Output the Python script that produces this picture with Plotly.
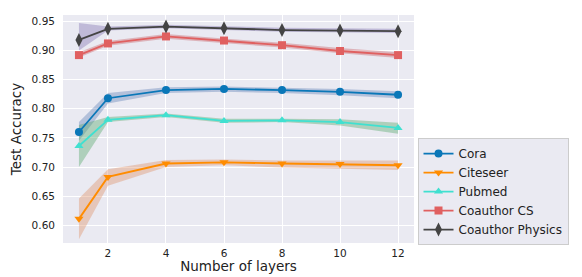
import plotly.graph_objects as go

layers = [1, 2, 4, 6, 8, 10, 12]
names = ["Cora", "Citeseer", "Pubmed", "Coauthor CS", "Coauthor Physics"]

cora = [0.760, 0.818, 0.832, 0.834, 0.832, 0.829, 0.824]
cora_lo = [0.745, 0.809, 0.827, 0.829, 0.827, 0.823, 0.818]
cora_hi = [0.777, 0.827, 0.837, 0.838, 0.836, 0.834, 0.830]

citeseer = [0.611, 0.683, 0.706, 0.708, 0.706, 0.705, 0.703]
citeseer_lo = [0.576, 0.668, 0.700, 0.703, 0.699, 0.697, 0.695]
citeseer_hi = [0.646, 0.696, 0.712, 0.713, 0.711, 0.711, 0.711]

pubmed = [0.736, 0.781, 0.789, 0.779, 0.780, 0.777, 0.767]
pubmed_lo = [0.700, 0.777, 0.786, 0.776, 0.777, 0.771, 0.757]
pubmed_hi = [0.772, 0.786, 0.792, 0.783, 0.783, 0.782, 0.776]

cs = [0.892, 0.912, 0.924, 0.917, 0.909, 0.899, 0.892]
cs_lo = [0.888, 0.908, 0.920, 0.913, 0.905, 0.895, 0.887]
cs_hi = [0.897, 0.916, 0.928, 0.921, 0.913, 0.904, 0.897]

physics = [0.918, 0.937, 0.941, 0.938, 0.935, 0.934, 0.933]
physics_lo = [0.900, 0.934, 0.938, 0.935, 0.932, 0.931, 0.930]
physics_hi = [0.947, 0.941, 0.944, 0.941, 0.939, 0.938, 0.937]

y_ticks = [0.60, 0.65, 0.70, 0.75, 0.80, 0.85, 0.90, 0.95]
x_ticks = [2, 4, 6, 8, 10, 12]

series = [
    (names[0], cora, cora_lo, cora_hi, "#0a77b8", "rgba(76,114,176,0.35)", "circle"),
    (names[1], citeseer, citeseer_lo, citeseer_hi, "#ff8c00", "rgba(221,132,82,0.35)", "triangle-down"),
    (names[2], pubmed, pubmed_lo, pubmed_hi, "#40e0d0", "rgba(85,168,104,0.4)", "triangle-up"),
    (names[3], cs, cs_lo, cs_hi, "#e06060", "rgba(196,78,82,0.35)", "square"),
    (names[4], physics, physics_lo, physics_hi, "#444444", "rgba(129,114,178,0.4)", "diamond-tall"),
]

fig = go.Figure()
for name, y, lo, hi, col, band, sym in series:
    fig.add_trace(go.Scatter(
        x=layers + layers[::-1], y=hi + lo[::-1], fill="toself",
        fillcolor=band, line=dict(width=0), mode="lines",
        hoverinfo="skip", showlegend=False))
for name, y, lo, hi, col, band, sym in series:
    fig.add_trace(go.Scatter(
        x=layers, y=y, name=name, mode="lines+markers",
        line=dict(color=col, width=1.8),
        marker=dict(symbol=sym, size=8 if sym != "diamond-tall" else 10, color=col)))

fig.update_layout(
    width=582, height=277,
    margin=dict(l=55, r=176, t=7, b=42),
    paper_bgcolor="white", plot_bgcolor="#EAEAF2",
    font=dict(family="DejaVu Sans", size=10.5, color="#222222"),
    showlegend=True,
    legend=dict(x=1.01, y=0.46, xanchor="left", yanchor="top",
                bgcolor="#EAEAF2", bordercolor="#cccccc", borderwidth=1,
                font=dict(size=12), itemwidth=30, tracegroupgap=0),
    xaxis=dict(range=[0.45, 12.55], tickvals=x_ticks, showgrid=True,
               gridcolor="white", gridwidth=1.2, zeroline=False,
               showline=False, ticks="", ticklabelstandoff=2,
               title=dict(text="Number of layers", font=dict(size=13.5), standoff=0)),
    yaxis=dict(range=[0.5696, 0.9608], tickvals=y_ticks,
               ticktext=[f"{v:.2f}" for v in y_ticks], showgrid=True,
               gridcolor="white", gridwidth=1.2, zeroline=False,
               showline=False, ticks="", ticklabelstandoff=7,
               title=dict(text="Test Accuracy", font=dict(size=13.5), standoff=7)),
)

fig.write_html("out.html")
